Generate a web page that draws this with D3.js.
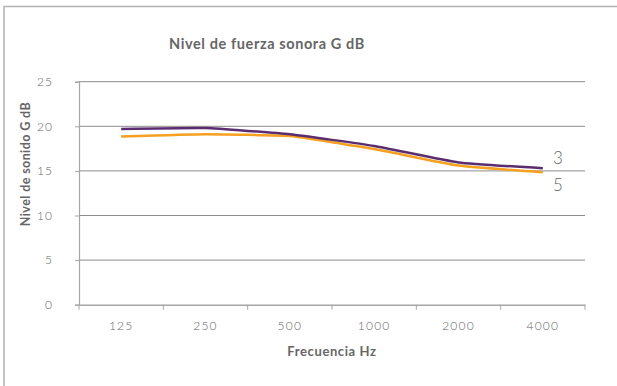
<!DOCTYPE html>
<html><head><meta charset="utf-8">
<script src="https://cdn.jsdelivr.net/npm/d3@7"></script>
<style>
html,body{margin:0;padding:0;background:#fff;}
svg{display:block;}
text{font-family:"Lato","DejaVu Sans",sans-serif;fill:#666;}
</style></head>
<body><svg id="c" width="617" height="386"></svg>
<script>
const categories = ["125","250","500","1000","2000","4000"];
const series3 = [19.7, 19.8, 19.1, 17.8, 15.95, 15.3];
const series5 = [18.85, 19.1, 18.9, 17.45, 15.6, 14.85];
const seriesNames = ["3","5"];
const yTicks = [0,5,10,15,20,25];

(function(){
const svg = d3.select("#c");
// frame
svg.append("rect").attr("x",4).attr("y",6.5).attr("width",700).attr("height",500)
  .attr("fill","none").attr("stroke","#b3b3b3").attr("stroke-width",1.5);

const pl=79, pr=585, pt=81.7, pb=304.7;
const x = d3.scaleBand().domain(categories).range([pl,pr]);
const y = d3.scaleLinear().domain([0,25]).range([pb,pt]);

// gridlines
svg.append("g").selectAll("line").data(yTicks.filter(t=>t>0)).join("line")
  .attr("x1",pl).attr("x2",pr).attr("y1",d=>y(d)).attr("y2",d=>y(d))
  .attr("stroke","#8c8c8c").attr("stroke-width",1);

// y axis
const ya = svg.append("g").attr("transform",`translate(${pl},0)`)
  .call(d3.axisLeft(y).tickValues(yTicks).tickSize(4).tickPadding(22));
ya.select(".domain").attr("stroke","#a6a6a6").attr("stroke-width",1.2);
ya.selectAll(".tick line").attr("stroke","#a6a6a6");
ya.selectAll("text").attr("font-size",12).attr("fill","#777").style("font-weight",300).attr("letter-spacing","1");

// x axis
const xa = svg.append("g").attr("transform",`translate(0,${pb})`)
  .call(d3.axisBottom(x).tickSizeInner(0).tickSizeOuter(0).tickPadding(17));
xa.select(".domain").attr("stroke","#a6a6a6").attr("stroke-width",1.5);
xa.selectAll("text").attr("font-size",12).attr("fill","#777").style("font-weight",300).attr("letter-spacing","1.2");
// category boundary ticks
svg.append("g").selectAll("line").data(categories.map((c,i)=>i).concat([categories.length])).join("line")
  .attr("x1",i=>pl+i*x.step()).attr("x2",i=>pl+i*x.step())
  .attr("y1",pb).attr("y2",pb+5).attr("stroke","#a6a6a6");

// lines
const line = d3.line().x((d,i)=>x(categories[i])+x.bandwidth()/2).y(d=>y(d)).curve(d3.curveCardinal.tension(0.6));
svg.append("path").datum(series5).attr("d",line).attr("fill","none").attr("stroke","#f5a01e").attr("stroke-width",2.5);
svg.append("path").datum(series3).attr("d",line).attr("fill","none").attr("stroke","#5b2c6f").attr("stroke-width",2.5);

// end labels
svg.append("text").attr("x",553).attr("y",164).attr("font-size",17).attr("fill","#666").style("font-weight",300).text(seriesNames[0]);
svg.append("text").attr("x",553).attr("y",191).attr("font-size",17).attr("fill","#666").style("font-weight",300).text(seriesNames[1]);

// titles
svg.append("text").attr("x",267).attr("y",49).attr("text-anchor","middle").attr("font-size",14.5).style("font-weight",700).attr("letter-spacing","0.6").attr("fill","#666").text("Nivel de fuerza sonora G dB");
svg.append("text").attr("x",(pl+pr)/2).attr("y",356).attr("text-anchor","middle").attr("font-size",13).style("font-weight",700).attr("letter-spacing","0.6").attr("fill","#666").text("Frecuencia Hz");
svg.append("text").attr("transform","translate(30,164) rotate(-90)").attr("text-anchor","middle").attr("font-size",12.5).style("font-weight",700).attr("letter-spacing","0.4").attr("fill","#666").text("Nivel de sonido G dB");
})();
</script></body></html>
